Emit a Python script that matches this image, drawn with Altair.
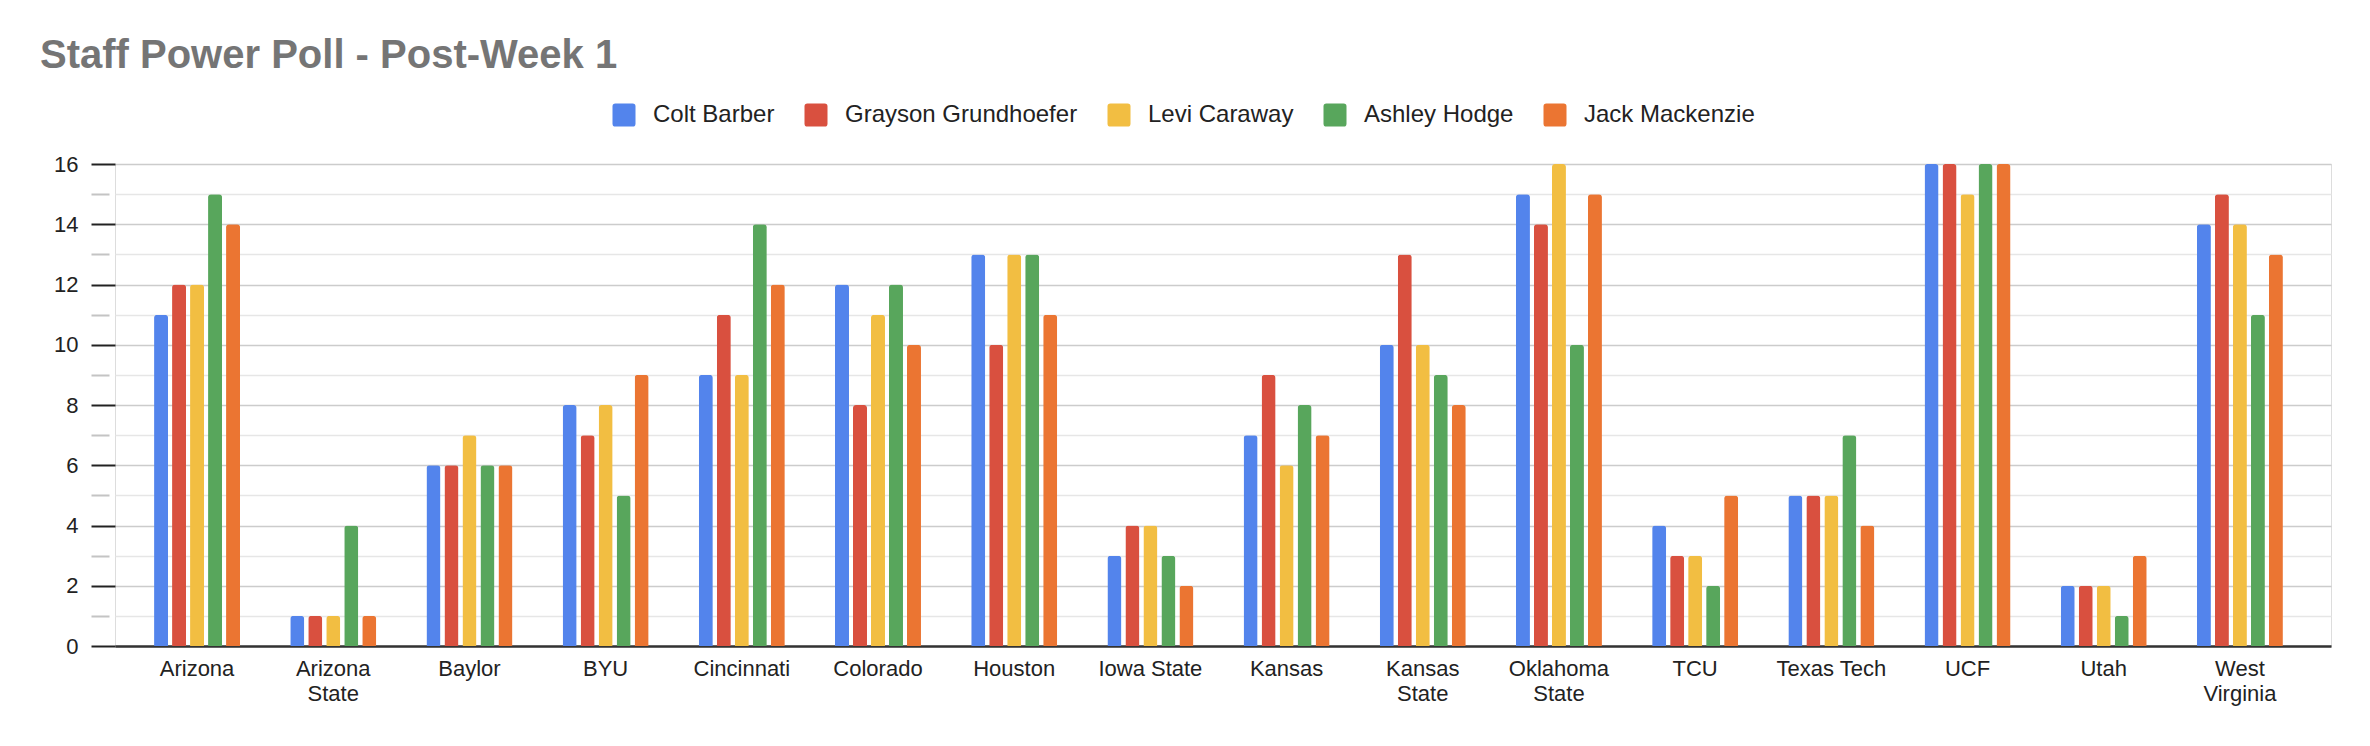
import json
import altair as alt
import pandas as pd

teams = ["Arizona", "Arizona State", "Baylor", "BYU", "Cincinnati", "Colorado",
         "Houston", "Iowa State", "Kansas", "Kansas State", "Oklahoma State",
         "TCU", "Texas Tech", "UCF", "Utah", "West Virginia"]
people = ["Colt Barber", "Grayson Grundhoefer", "Levi Caraway", "Ashley Hodge", "Jack Mackenzie"]

colt_barber = [11, 1, 6, 8, 9, 12, 13, 3, 7, 10, 15, 4, 5, 16, 2, 14]
grayson_grundhoefer = [12, 1, 6, 7, 11, 8, 10, 4, 9, 13, 14, 3, 5, 16, 2, 15]
levi_caraway = [12, 1, 7, 8, 9, 11, 13, 4, 6, 10, 16, 3, 5, 15, 2, 14]
ashley_hodge = [15, 4, 6, 5, 14, 12, 13, 3, 8, 9, 10, 2, 7, 16, 1, 11]
jack_mackenzie = [14, 1, 6, 9, 12, 10, 11, 2, 7, 8, 15, 5, 4, 16, 3, 13]

y_ticks = list(range(0, 17))
wrapped_labels = ["Arizona State", "Kansas State", "Oklahoma State", "West Virginia"]

colors = ["#5384EC", "#D9503F", "#F2BE42", "#58A65C", "#EB7532"]

series = [colt_barber, grayson_grundhoefer, levi_caraway, ashley_hodge, jack_mackenzie]
rows = []
for person, vals in zip(people, series):
    for team, v in zip(teams, vals):
        rows.append({"team": team, "person": person, "rank": v})
df = pd.DataFrame(rows)

FONT = "Liberation Sans"
label_expr = ("indexof(%s, datum.label) >= 0 ? split(datum.label, ' ') : datum.label"
              % json.dumps(wrapped_labels))
odd = "datum.value % 2 == 1"
rounded_square = ("M -0.75,-1 L 0.75,-1 Q 1,-1 1,-0.75 L 1,0.75 Q 1,1 0.75,1 "
                  "L -0.75,1 Q -1,1 -1,0.75 L -1,-0.75 Q -1,-1 -0.75,-1 Z")

chart = alt.Chart(df).mark_bar(
    cornerRadiusTopLeft=3, cornerRadiusTopRight=3
).encode(
    x=alt.X(
        "team:N", sort=teams, title=None,
        scale=alt.Scale(paddingInner=0.3686, paddingOuter=0.32, align=0.448),
        axis=alt.Axis(
            labelAngle=0, ticks=False, grid=False,
            domainColor="#333333", domainWidth=2.5,
            labelFont=FONT, labelFontSize=22, labelColor="#222222",
            labelPadding=12, labelLineHeight=25, labelExpr=label_expr,
        ),
    ),
    xOffset=alt.XOffset("person:N", sort=people,
                        scale=alt.Scale(paddingInner=0.222, paddingOuter=0)),
    y=alt.Y(
        "rank:Q", title=None,
        scale=alt.Scale(domain=[0, 16], nice=False),
        axis=alt.Axis(
            values=y_ticks, domain=False,
            labelFont=FONT, labelFontSize=22, labelColor="#222222",
            labelPadding=13,
            labelExpr="datum.value % 2 == 1 ? '' : datum.label",
            tickSize=24, tickWidth=2,
            tickColor={"condition": {"test": odd, "value": "#c4c4c4"}, "value": "#222222"},
            tickDash={"condition": {"test": odd, "value": [0, 6, 18, 40]}, "value": [1000, 0]},
            gridColor={"condition": {"test": odd, "value": "#e6e6e6"}, "value": "#cccccc"},
            gridWidth=1.6,
        ),
    ),
    color=alt.Color(
        "person:N",
        scale=alt.Scale(domain=people, range=colors),
        legend=alt.Legend(
            title=None, orient="none", legendX=497, legendY=-61,
            direction="horizontal", columns=5,
            symbolType=rounded_square, symbolSize=529, symbolStrokeWidth=0,
            labelFont=FONT, labelFontSize=24, labelColor="#222222", labelLimit=0,
            labelOffset=17, columnPadding=29, padding=0,
        ),
    ),
).properties(
    width=2216,
    height=482,
    autosize=alt.AutoSizeParams(type="none"),
    padding={"left": 107, "top": 156, "right": 31, "bottom": 92},
    title=alt.TitleParams(
        "Staff Power Poll - Post-Week 1",
        anchor="start", frame="group", font=FONT, fontSize=40,
        fontWeight="bold", color="#757575", dx=-75, dy=-27, offset=0,
    ),
).configure_view(
    strokeWidth=0
).configure(background="white")

chart.save("out.html", embed_options={"renderer": "svg", "actions": False})
